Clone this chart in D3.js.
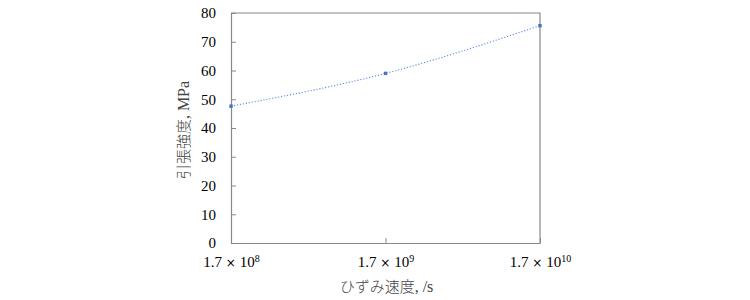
<!DOCTYPE html>
<html>
<head>
<meta charset="utf-8">
<script src="https://cdn.jsdelivr.net/npm/d3@7"></script>
<style>
  body { margin: 0; background: #fff; }
  .tick text { font-family: "Liberation Serif", serif; font-size: 15px; fill: #000; }
  .axisTitle { font-family: "Noto Sans CJK JP", sans-serif; font-size: 15px; font-weight: 300; fill: #444; }
  .axisTitle .lat { font-family: "Liberation Serif", serif; font-size: 16px; font-weight: 400; }
</style>
</head>
<body>
<div id="chart"></div>
<script>
// data
let strainRate = [1.7e8, 1.7e9, 1.7e10];
let strength = [47.6, 59.0, 75.6];
let yTicks = [0, 10, 20, 30, 40, 50, 60, 70, 80];
let xExponents = [8, 9, 10];

let svgWidth = 750;
let svgHeight = 300;

var margin = {
  top: 13,
  right: 210,
  bottom: 57,
  left: 231
};

let width = svgWidth - margin.left - margin.right;
let height = svgHeight - margin.top - margin.bottom;

let svg = d3.select("#chart")
  .append("svg")
  .attr("width", svgWidth)
  .attr("height", svgHeight);

var chartGroup = svg.append("g")
  .attr("transform", `translate(${margin.left}, ${margin.top})`);

// scales
var xLogScale = d3.scaleLog()
  .domain([1.7e8, 1.7e10])
  .range([0, width]);

var yLinearScale = d3.scaleLinear()
  .domain([0, 80])
  .range([height, 0]);

// frame (top and right edges)
chartGroup.append("path")
  .attr("d", `M0,0H${width}V${height}`)
  .attr("fill", "none")
  .attr("stroke", "#888")
  .attr("stroke-width", 1.2);

// axes, ticks pointing inward
var leftAxis = d3.axisLeft(yLinearScale)
  .tickValues(yTicks)
  .tickSizeInner(-5)
  .tickSizeOuter(0)
  .tickPadding(15);

var bottomAxis = d3.axisBottom(xLogScale)
  .tickValues(strainRate)
  .tickSizeInner(-5)
  .tickSizeOuter(0)
  .tickPadding(12)
  .tickFormat(() => "");

var yAxisG = chartGroup.append("g").call(leftAxis);
var xAxisG = chartGroup.append("g")
  .attr("transform", `translate(0, ${height})`)
  .call(bottomAxis);

[yAxisG, xAxisG].forEach(g => {
  g.select(".domain").attr("stroke", "#888").attr("stroke-width", 1.2);
  g.selectAll(".tick line").attr("stroke", "#888");
});

// x tick labels 1.7×10^n
xAxisG.selectAll(".tick text")
  .data(xExponents)
  .attr("y", 19)
  .attr("dy", "0.32em")
  .each(function(n) {
    let t = d3.select(this);
    t.append("tspan").text("1.7");
    t.append("tspan").attr("font-family", "DejaVu Sans").attr("font-size", "12px").text(" \u00d7 ");
    t.append("tspan").text("10");
    t.append("tspan").attr("font-size", "10px").attr("dy", "-0.5em").text(n);
  });

// dotted trend curve through the points
var trendLine = d3.line()
  .x((d, i) => xLogScale(strainRate[i]))
  .y(d => yLinearScale(d))
  .curve(d3.curveNatural);

chartGroup.append("path")
  .datum(strength)
  .attr("d", trendLine)
  .attr("fill", "none")
  .attr("stroke", "#5b8ae0")
  .attr("stroke-width", 1.1)
  .attr("stroke-dasharray", "1.2,1.8");

// markers
chartGroup.selectAll("rect.pt")
  .data(strength)
  .enter()
  .append("rect")
  .attr("class", "pt")
  .attr("x", (d, i) => xLogScale(strainRate[i]) - 1.7)
  .attr("y", d => yLinearScale(d) - 1.7)
  .attr("width", 3.4)
  .attr("height", 3.4)
  .attr("fill", "#4472c4");

// axis titles
var yTitle = chartGroup.append("text")
  .attr("class", "axisTitle")
  .attr("transform", "rotate(-90)")
  .attr("x", 0 - (height / 2) - 2)
  .attr("y", -42)
  .attr("text-anchor", "middle");
yTitle.append("tspan").text("引張強度");
yTitle.append("tspan").attr("class", "lat").text(", MPa");

var xTitle = chartGroup.append("text")
  .attr("class", "axisTitle")
  .attr("x", width / 2 + 1)
  .attr("y", height + 49)
  .attr("text-anchor", "middle");
xTitle.append("tspan").text("ひずみ速度");
xTitle.append("tspan").attr("class", "lat").text(", /s");
</script>
</body>
</html>
